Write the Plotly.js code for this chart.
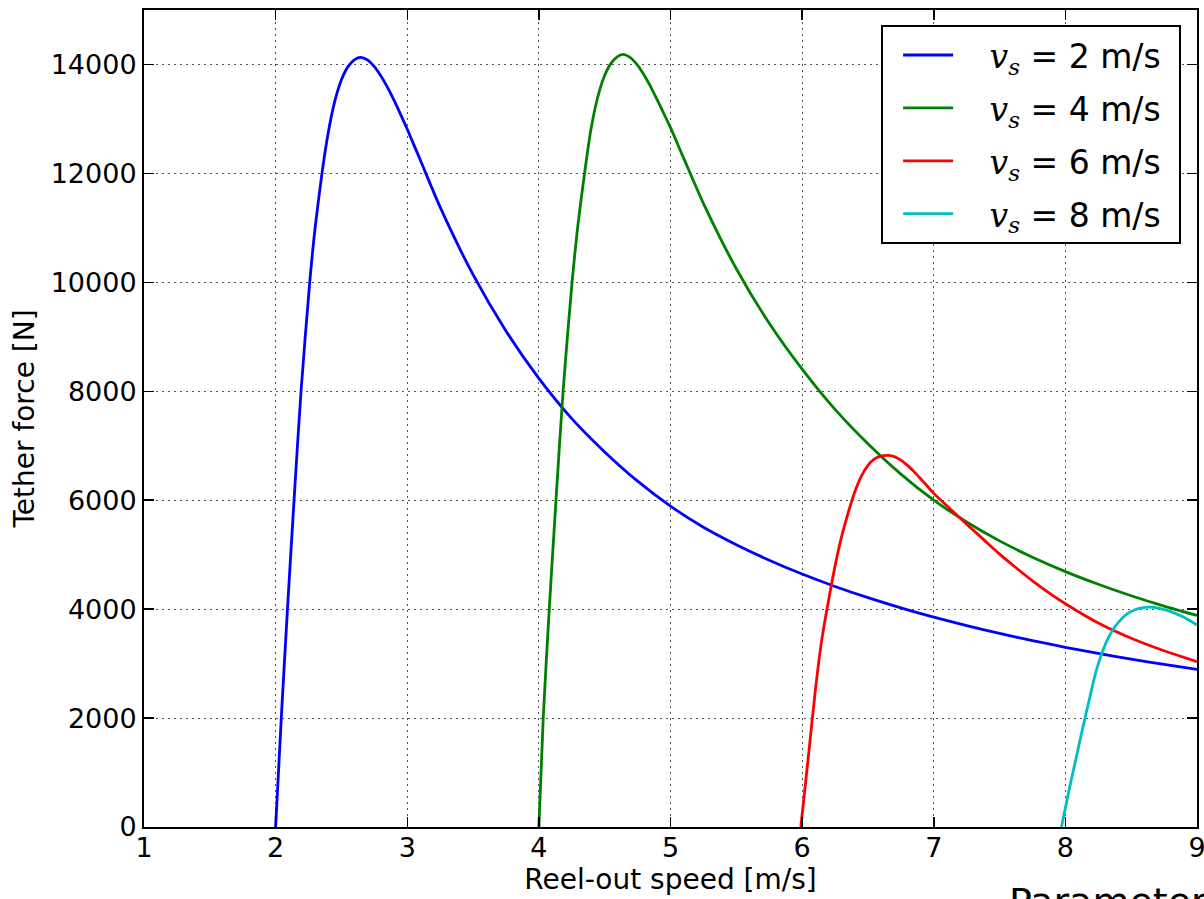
<!DOCTYPE html>
<html>
<head>
<meta charset="utf-8">
<script src="https://cdn.plot.ly/plotly-3.0.1.min.js"></script>
<style>html,body{margin:0;padding:0;background:#fff;}#chart{width:1204px;height:899px;}</style>
</head>
<body>
<div id="chart"></div>
<script>
// Reel-out speed [m/s] and tether force [N]
const speedVs2 = [2.0, 2.043, 2.09, 2.14, 2.193, 2.259, 2.30, 2.352, 2.40, 2.45, 2.50, 2.55, 2.60, 2.646, 2.70, 2.75, 2.80, 2.85, 2.90, 2.95, 3.0, 3.1, 3.25, 3.5, 3.75, 4.0, 4.25, 4.5, 4.75, 5.0, 5.25, 5.5, 5.75, 6.0, 6.25, 6.5, 6.75, 7.0, 7.25, 7.5, 7.75, 8.0, 8.25, 8.5, 8.75, 9.0];
const forceVs2 = [0, 2000, 4000, 6000, 8000, 10000, 11000, 12000, 12750, 13330, 13720, 13960, 14090, 14130, 14080, 13960, 13790, 13580, 13340, 13080, 12810, 12240, 11380, 10140, 9108, 8236, 7497, 6886, 6349, 5890, 5504, 5183, 4898, 4644, 4416, 4210, 4023, 3853, 3697, 3554, 3422, 3300, 3187, 3082, 2984, 2893];

const speedVs4 = [4.0, 4.033, 4.079, 4.13, 4.184, 4.252, 4.294, 4.347, 4.395, 4.445, 4.495, 4.545, 4.595, 4.637, 4.69, 4.74, 4.79, 4.84, 4.89, 4.945, 5.0, 5.1, 5.25, 5.5, 5.75, 6.0, 6.25, 6.5, 6.75, 7.0, 7.25, 7.5, 7.75, 8.0, 8.25, 8.5, 8.75, 9.0];
const forceVs4 = [0, 2000, 4000, 6000, 8000, 10000, 11000, 12000, 12800, 13380, 13770, 14010, 14140, 14185, 14135, 14015, 13845, 13635, 13395, 13120, 12840, 12280, 11450, 10250, 9248, 8406, 7667, 7036, 6479, 6000, 5600, 5253, 4953, 4689, 4456, 4245, 4055, 3883];

const speedVs6 = [5.99, 6.05, 6.10, 6.15, 6.20, 6.25, 6.30, 6.35, 6.40, 6.45, 6.50, 6.55, 6.60, 6.657, 6.70, 6.75, 6.80, 6.85, 6.90, 6.95, 7.0, 7.125, 7.25, 7.375, 7.5, 7.625, 7.75, 7.875, 8.0, 8.25, 8.5, 8.75, 9.0];
const forceVs6 = [0, 1350, 2500, 3450, 4150, 4790, 5330, 5770, 6150, 6440, 6640, 6760, 6810, 6822, 6800, 6735, 6640, 6525, 6395, 6260, 6125, 5840, 5560, 5285, 5010, 4760, 4520, 4300, 4100, 3745, 3465, 3235, 3035];

const speedVs8 = [7.97, 8.03, 8.08, 8.13, 8.18, 8.23, 8.28, 8.33, 8.38, 8.43, 8.48, 8.53, 8.58, 8.633, 8.70, 8.76, 8.81, 8.9, 9.0];
const forceVs8 = [0, 700, 1250, 1800, 2320, 2830, 3210, 3490, 3690, 3830, 3930, 3990, 4025, 4037, 4025, 3985, 3945, 3850, 3710];

const seriesNames = ['2', '4', '6', '8'];
const seriesColors = ['#0000ff', '#008000', '#ff0000', '#00bfbf'];
const xTicks = [1, 2, 3, 4, 5, 6, 7, 8, 9];
const yTicks = [0, 2000, 4000, 6000, 8000, 10000, 12000, 14000];

const xs = [speedVs2, speedVs4, speedVs6, speedVs8];
const ys = [forceVs2, forceVs4, forceVs6, forceVs8];

const traces = xs.map((x, i) => ({
  type: 'scatter',
  mode: 'lines',
  x: x,
  y: ys[i],
  name: '\u00a0\u00a0\u00a0<span style="font-family:\'DejaVu Serif\'"><i>v</i><sub><i>s</i></sub></span> = ' + seriesNames[i] + ' m/s\u2009\u2009',
  legendgroup: 'g' + i,
  line: {color: seriesColors[i], width: 2.8, shape: 'spline', smoothing: 0.7}
}));

const axisCommon = {
  showline: true,
  linecolor: '#000',
  linewidth: 2,
  mirror: 'allticks',
  ticks: 'inside',
  ticklen: 10,
  tickwidth: 1.5,
  tickcolor: '#000',
  showgrid: true,
  gridcolor: '#555',
  gridwidth: 1,
  griddash: '2px,4px',
  zeroline: false,
  ticklabeloverflow: 'allow',
  tickfont: {family: 'DejaVu Sans', size: 27, color: '#000'}
};

const layout = {
  width: 1204,
  height: 899,
  margin: {l: 144, r: 7, t: 10, b: 72},
  paper_bgcolor: '#fff',
  plot_bgcolor: '#fff',
  font: {family: 'DejaVu Sans', color: '#000'},
  xaxis: Object.assign({}, axisCommon, {
    range: [1, 9],
    tickmode: 'array',
    tickvals: xTicks,
    ticktext: xTicks.map(String),
    ticklabelstandoff: -4,
    title: {text: 'Reel-out speed [m/s]', font: {family: 'DejaVu Sans', size: 28, color: '#000'}, standoff: 0}
  }),
  yaxis: Object.assign({}, axisCommon, {
    range: [0, 15000],
    tickmode: 'array',
    tickvals: yTicks,
    ticktext: yTicks.map(String),
    title: {text: 'Tether force [N]', font: {family: 'DejaVu Sans', size: 28, color: '#000'}, standoff: 8}
  }),
  legend: {
    x: 0.7,
    y: 0.9816,
    xanchor: 'left',
    yanchor: 'top',
    bgcolor: '#fff',
    bordercolor: '#000',
    borderwidth: 2,
    font: {family: 'DejaVu Sans', size: 33, color: '#000'},
    traceorder: 'grouped',
    tracegroupgap: 7,
    itemwidth: 50,
    indentation: 15
  },
  showlegend: true,
  annotations: [{
    xref: 'paper', yref: 'paper',
    x: 0.8195, y: -0.0916,
    xanchor: 'left', yanchor: 'middle',
    text: 'Parameters',
    showarrow: false,
    font: {family: 'DejaVu Sans', size: 38, color: '#000'}
  }]
};

Plotly.newPlot('chart', traces, layout, {displayModeBar: false, staticPlot: true});
</script>
</body>
</html>
